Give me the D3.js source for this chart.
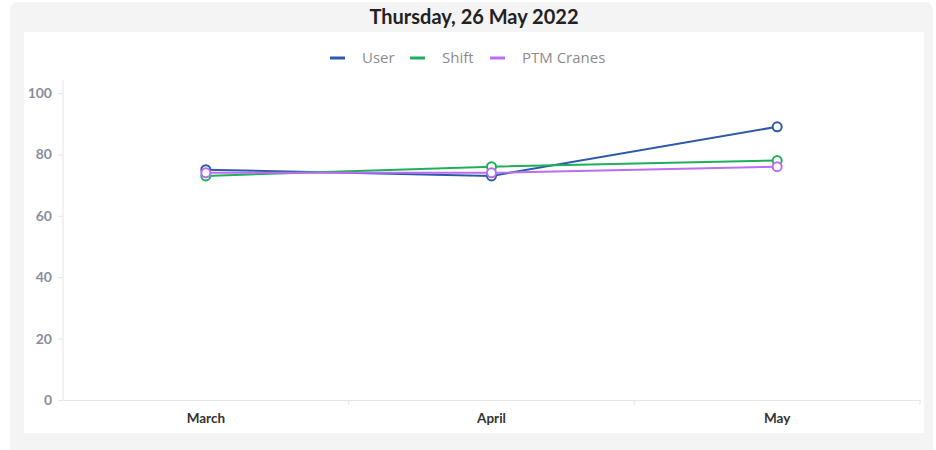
<!DOCTYPE html>
<html>
<head>
<meta charset="utf-8">
<script src="https://cdn.jsdelivr.net/npm/d3@7"></script>
<style>
  body { margin: 0; background: #fff; }
  svg { display: block; }
</style>
</head>
<body>
<div id="chart"></div>
<script>
var months = ["March", "April", "May"];
var seriesNames = ["User", "Shift", "PTM Cranes"];
var userValues = [75, 73, 89];
var shiftValues = [73, 76, 78];
var craneValues = [74, 74, 76];
var yTicks = [0, 20, 40, 60, 80, 100];
var colors = ["#2c5aa8", "#1fae5c", "#bb6ef0"];

var width = 936, height = 450;

var svg = d3.select("#chart").append("svg")
  .attr("width", width)
  .attr("height", height);

// card + inner panel
svg.append("rect").attr("x", 10).attr("y", 2).attr("width", 923).attr("height", 460)
  .attr("rx", 8).attr("fill", "#f4f4f4");
svg.append("rect").attr("x", 24).attr("y", 32).attr("width", 900).attr("height", 401)
  .attr("fill", "#fff");

svg.append("text")
  .attr("x", 474).attr("y", 24)
  .attr("text-anchor", "middle")
  .style("font-family", "Lato, sans-serif")
  .style("font-weight", "bold")
  .style("font-size", "20px")
  .attr("fill", "#222")
  .text("Thursday, 26 May 2022");

var x = d3.scaleBand().domain(months).range([63, 920]);
var y = d3.scaleLinear().domain([0, 100]).range([400, 93]);

// axes
var gx = svg.append("g").attr("transform", "translate(0,400)")
  .call(d3.axisBottom(x).tickSize(0).tickPadding(13));
gx.select(".domain").attr("stroke", "#e6e6e6");
gx.selectAll("text")
  .style("font-family", "Lato, sans-serif").style("font-weight", "bold")
  .style("font-size", "13.5px").attr("fill", "#333");

// band boundary ticks
svg.append("g").selectAll("line")
  .data(months)
  .join("line")
  .attr("x1", function (d) { return x(d) + x.bandwidth(); })
  .attr("x2", function (d) { return x(d) + x.bandwidth(); })
  .attr("y1", 400).attr("y2", 405)
  .attr("stroke", "#e6e6e6");

var gy = svg.append("g").attr("transform", "translate(63,0)")
  .call(d3.axisLeft(y).tickValues(yTicks).tickSize(5).tickPadding(6));
gy.select(".domain").attr("stroke", "#e6e6e6").attr("d", "M0,80V400");
gy.selectAll(".tick line").attr("stroke", "#e6e6e6");
gy.selectAll("text")
  .style("font-family", "Lato, sans-serif").style("font-weight", "bold")
  .style("font-size", "14px").attr("fill", "#8a8e9c");

// lines
var data = [userValues, shiftValues, craneValues];
var line = d3.line()
  .x(function (d, i) { return x(months[i]) + x.bandwidth() / 2; })
  .y(function (d) { return y(d); });

data.forEach(function (vals, k) {
  svg.append("path").datum(vals)
    .attr("d", line)
    .attr("fill", "none")
    .attr("stroke", colors[k])
    .attr("stroke-width", 2);
});
data.forEach(function (vals, k) {
  svg.append("g").selectAll("circle").data(vals).join("circle")
    .attr("cx", function (d, i) { return x(months[i]) + x.bandwidth() / 2; })
    .attr("cy", function (d) { return y(d); })
    .attr("r", 4.5)
    .attr("fill", "#fff")
    .attr("stroke", colors[k])
    .attr("stroke-width", 2);
});

// legend
var legendX = [330, 410, 490];
var legend = svg.append("g").selectAll("g").data(seriesNames).join("g")
  .attr("transform", function (d, i) { return "translate(" + legendX[i] + ",58)"; });
legend.append("line")
  .attr("x1", 0).attr("x2", 15).attr("y1", 0).attr("y2", 0)
  .attr("stroke", function (d, i) { return colors[i]; })
  .attr("stroke-width", 3);
legend.append("text")
  .attr("x", 32).attr("y", 5)
  .style("font-family", "'Open Sans', sans-serif")
  .style("font-size", "15px")
  .attr("fill", "#8c8c8c")
  .text(function (d) { return d; });
</script>
</body>
</html>
